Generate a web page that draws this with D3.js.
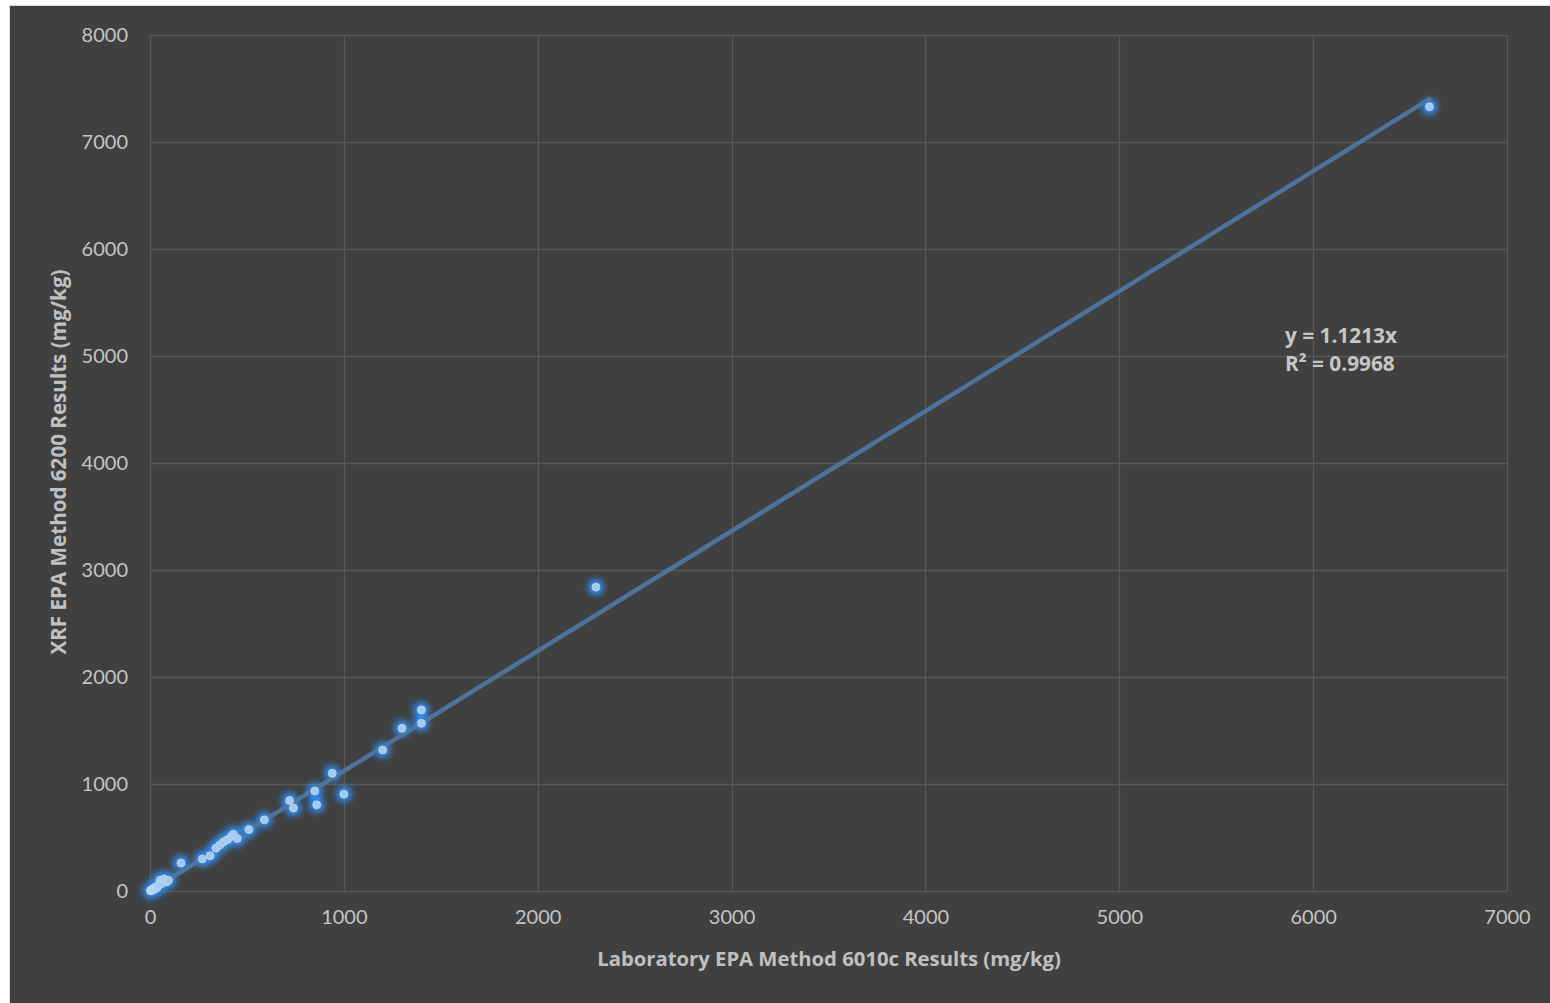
<!DOCTYPE html>
<html>
<head>
<meta charset="utf-8">
<script src="https://cdn.jsdelivr.net/npm/d3@7"></script>
<style>
html,body{margin:0;padding:0;background:#fff;}
svg{display:block;}
text{font-family:Lato,"Open Sans",sans-serif;}
</style>
</head>
<body>
<svg id="chart" width="1550" height="1003"></svg>
<script>
// Data (mg/kg)
const labX = [2,5,8,10,12,15,18,20,25,30,35,40,45,52,60,72,86,95,
  160,270,310,340,360,380,400,420,430,450,510,590,720,740,850,860,940,1000,1200,1300,1400,1400,2300,6600];
const xrfY = [4,2,10,6,15,12,20,25,18,35,30,45,55,100,70,112,87,100,
  262,300,330,400,430,460,480,510,530,490,575,665,845,775,935,805,1100,905,1318,1520,1567,1692,2840,7330];
const slope = 1.1213;
const rSquared = 0.9968;
const trendXRange = [0, 6600];
const xTicks = [0,1000,2000,3000,4000,5000,6000,7000];
const yTicks = [0,1000,2000,3000,4000,5000,6000,7000,8000];
const xTitle = "Laboratory EPA Method 6010c Results (mg/kg)";
const yTitle = "XRF EPA Method 6200 Results (mg/kg)";
const eqLines = ["y = " + slope.toFixed(4) + "x", "R² = " + rSquared.toFixed(4)];

const svg = d3.select("#chart");
const W = 1550, H = 1003;
const plot = {left:150, right:1507, top:35, bottom:891};

svg.append("rect").attr("x",0).attr("y",0).attr("width",W).attr("height",H).attr("fill","#ffffff");
svg.append("rect").attr("x",9.5).attr("y",5.5).attr("width",W-9).attr("height",H-5)
  .attr("fill","#404040").attr("stroke","#d9d9d9").attr("stroke-width",1);

const x = d3.scaleLinear().domain([0,7000]).range([plot.left, plot.right]);
const y = d3.scaleLinear().domain([0,8000]).range([plot.bottom, plot.top]);

const defs = svg.append("defs");
const f = defs.append("filter").attr("id","glow")
  .attr("filterUnits","userSpaceOnUse").attr("x",0).attr("y",0).attr("width",W).attr("height",H);
f.append("feGaussianBlur").attr("in","SourceGraphic").attr("stdDeviation",3.2);

// gridlines
const grid = svg.append("g").attr("stroke","#595959").attr("stroke-width",1.3);
grid.selectAll("line.h").data(yTicks).join("line").attr("class","h")
  .attr("x1",plot.left).attr("x2",plot.right)
  .attr("y1",d=>Math.round(y(d))+0.5).attr("y2",d=>Math.round(y(d))+0.5);
grid.selectAll("line.v").data(xTicks).join("line").attr("class","v")
  .attr("y1",plot.top).attr("y2",plot.bottom)
  .attr("x1",d=>Math.round(x(d))+0.5).attr("x2",d=>Math.round(x(d))+0.5);

// axes labels via d3 axes
const xAxis = svg.append("g").attr("transform",`translate(0,${plot.bottom})`)
  .call(d3.axisBottom(x).tickValues(xTicks).tickFormat(d3.format("d")).tickSize(0).tickPadding(19));
const yAxis = svg.append("g").attr("transform",`translate(${plot.left},0)`)
  .call(d3.axisLeft(y).tickValues(yTicks).tickFormat(d3.format("d")).tickSize(0).tickPadding(22));
[xAxis,yAxis].forEach(a=>{
  a.select(".domain").remove();
  a.selectAll("text").attr("fill","#c4c4c4").style("font-size","20px").style("font-family","Lato, 'Open Sans', sans-serif");
});

const pts = labX.map((v,i)=>({x:v,y:xrfY[i]}));

// glow
svg.append("g").attr("filter","url(#glow)").selectAll("circle").data(pts).join("circle")
  .attr("cx",d=>x(d.x)).attr("cy",d=>y(d.y)).attr("r",8)
  .attr("fill","#2e8ff5").attr("fill-opacity",1);

// trendline
svg.append("line")
  .attr("x1",x(trendXRange[0])).attr("y1",y(slope*trendXRange[0]))
  .attr("x2",x(trendXRange[1])).attr("y2",y(slope*trendXRange[1]))
  .attr("stroke","#4c79a5").attr("stroke-width",4.5).attr("stroke-linecap","round")
  .attr("stroke-opacity",0.9);

// markers
svg.append("g").selectAll("circle").data(pts).join("circle")
  .attr("cx",d=>x(d.x)).attr("cy",d=>y(d.y)).attr("r",4)
  .attr("fill","#a3c9ee").attr("stroke","#c4dcf3").attr("stroke-width",0.7);

// equation
const eq = svg.append("text").attr("x",1285).attr("y",343)
  .attr("fill","#c6c6c6").style("font-size","20px").style("font-weight","bold")
  .style("font-family","'Open Sans', Lato, sans-serif");
eq.selectAll("tspan").data(eqLines).join("tspan")
  .attr("x",1285).attr("dy",(d,i)=>i===0?0:28).text(d=>d);
fitText(eq.select("tspan"),112);

// axis titles
function fitText(t, target){
  const len = t.node().getComputedTextLength();
  const host = t.node().tagName === "tspan" ? d3.select(t.node().parentNode) : t;
  const fs = parseFloat(host.style("font-size"));
  host.style("font-size",(fs*target/len).toFixed(2)+"px");
}
const xt = svg.append("text").attr("x",829).attr("y",966).attr("text-anchor","middle")
  .attr("fill","#c0c0c0").style("font-size","20px").style("font-weight","bold")
  .style("font-family","'Open Sans', Lato, sans-serif").text(xTitle);
fitText(xt,464);
const yt = svg.append("text").attr("transform","translate(66,462) rotate(-90)").attr("text-anchor","middle")
  .attr("fill","#c0c0c0").style("font-size","20px").style("font-weight","bold")
  .style("font-family","'Open Sans', Lato, sans-serif").text(yTitle);
fitText(yt,385);
</script>
</body>
</html>
